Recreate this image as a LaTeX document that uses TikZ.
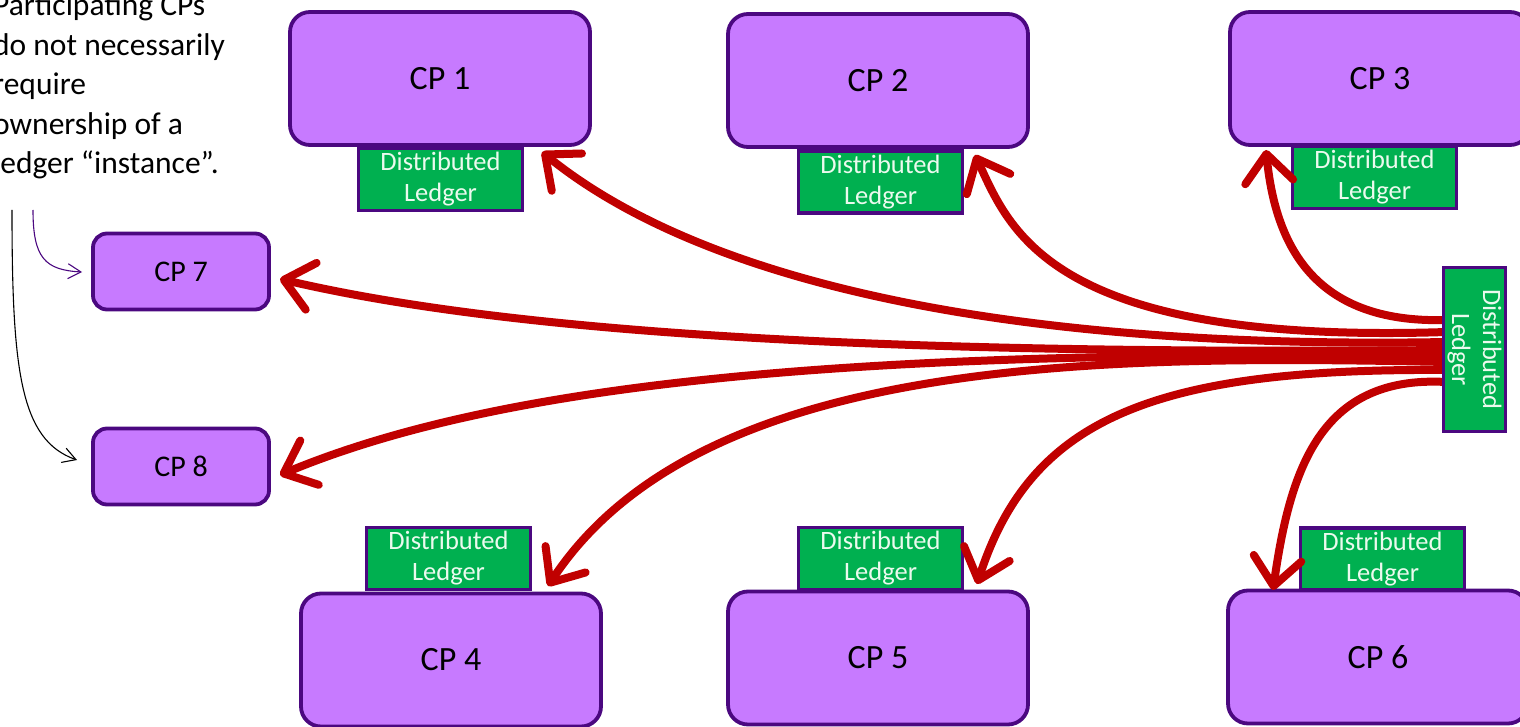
\documentclass[tikz,border=0pt]{standalone}
\usepackage{fontspec}
\setmainfont{Carlito}
\usetikzlibrary{arrows.meta}
\definecolor{cpfill}{RGB}{199,122,255}
\definecolor{cpline}{RGB}{75,8,128}
\definecolor{ledg}{RGB}{0,176,80}
\definecolor{arr}{RGB}{192,0,0}
\definecolor{ltext}{RGB}{235,250,238}
\begin{document}
\begin{tikzpicture}[x=1pt,y=-1pt,
 cp/.style={draw=cpline,fill=cpfill,line width=3.8pt,rounded corners=20pt,minimum width=300pt,minimum height=133pt,font=\fontsize{34}{40}\selectfont,inner sep=0pt},
 cpsmall/.style={cp,rounded corners=14pt,minimum width=176pt,minimum height=76pt,font=\fontsize{30}{36}\selectfont},
 ledger/.style={draw=cpline,fill=ledg,line width=3.2pt,minimum width=164pt,minimum height=62pt,text=ltext,align=center,font=\fontsize{26.5}{31}\selectfont,inner sep=0pt},
 flow/.style={draw=arr,line width=8pt,-{Straight Barb[length=28pt,width=48pt,round]}},
 note/.style={line width=1.1pt,-{Straight Barb[length=13pt,width=15pt]}}
]
\useasboundingbox (0,0) rectangle (1520,727);

% CP boxes
\node[cp] (cp1) at (440,78.5) {CP 1};
\node[cp] (cp2) at (878,80.5) {CP 2};
\node[cp] (cp3) at (1380,78.5) {CP 3};
\node[cp] (cp4) at (451,660) {CP 4};
\node[cp] (cp5) at (878,658) {CP 5};
\node[cp] (cp6) at (1378,657) {CP 6};
\node[cpsmall] (cp7) at (181,271.5) {CP 7};
\node[cpsmall] (cp8) at (181,466.5) {CP 8};

% ledgers
\node[ledger] (l1) at (440.5,179.5) {Distributed\\Ledger};
\node[ledger] (l2) at (880.5,182) {Distributed\\Ledger};
\node[ledger] (l3) at (1374.5,177.5) {Distributed\\Ledger};
\node[ledger] (l4) at (448.5,558.5) {Distributed\\Ledger};
\node[ledger] (l5) at (880.5,558.5) {Distributed\\Ledger};
\node[ledger] (l6) at (1382.5,559) {Distributed\\Ledger};

% start / end points
\coordinate (s3) at (1446,320);
\coordinate (s2) at (1446,332);
\coordinate (s1) at (1446,342);
\coordinate (s7) at (1446,350);
\coordinate (s8) at (1446,356);
\coordinate (s4) at (1446,362);
\coordinate (s5) at (1446,370);
\coordinate (s6) at (1446,382);
\coordinate (t1) at (542,152);
\coordinate (t2) at (975,155);
\coordinate (t3) at (1266,150);
\coordinate (t4) at (548,586);
\coordinate (t5) at (977,584);
\coordinate (t6) at (1273,590);
\coordinate (t7) at (280,279);
\coordinate (t8) at (280,475);

\draw[flow] (s3) .. controls (1310,324) and (1275,240) .. (t3);
\draw[flow] (s2) .. controls (1050,345) and (1010,230) .. (t2);
\draw[flow] (s1) .. controls (1000,350) and (700,280) .. (t1);
\draw[flow] (s7) .. controls (900,355) and (520,335) .. (t7);
\draw[flow] (s8) .. controls (900,350) and (520,375) .. (t8);
\draw[flow] (s4) .. controls (1100,355) and (700,355) .. (t4);
\draw[flow] (s5) .. controls (1150,368) and (1030,420) .. (t5);
\draw[flow] (s6) .. controls (1320,375) and (1290,470) .. (t6);

\node[ledger,rotate=-90] (ld) at (1474.5,349.5) {Distributed\\Ledger};

% note
\node[anchor=north west,align=left,inner sep=0pt,font=\fontsize{31.5}{39.5}\selectfont] (txt) at (-7,-6)
 {Participating CPs\\do not necessarily\\require\\ownership of a\\ledger “instance”.};
\coordinate (n7s) at (33,210);
\coordinate (n7) at (82,272);
\coordinate (n8s) at (12,210);
\coordinate (n8) at (77,460);
\draw[note,draw=cpline] (n7s) .. controls (33,258) and (45,270) .. (n7);
\draw[note,draw=black] (n8s) .. controls (12,370) and (20,440) .. (n8);
\end{tikzpicture}
\end{document}
